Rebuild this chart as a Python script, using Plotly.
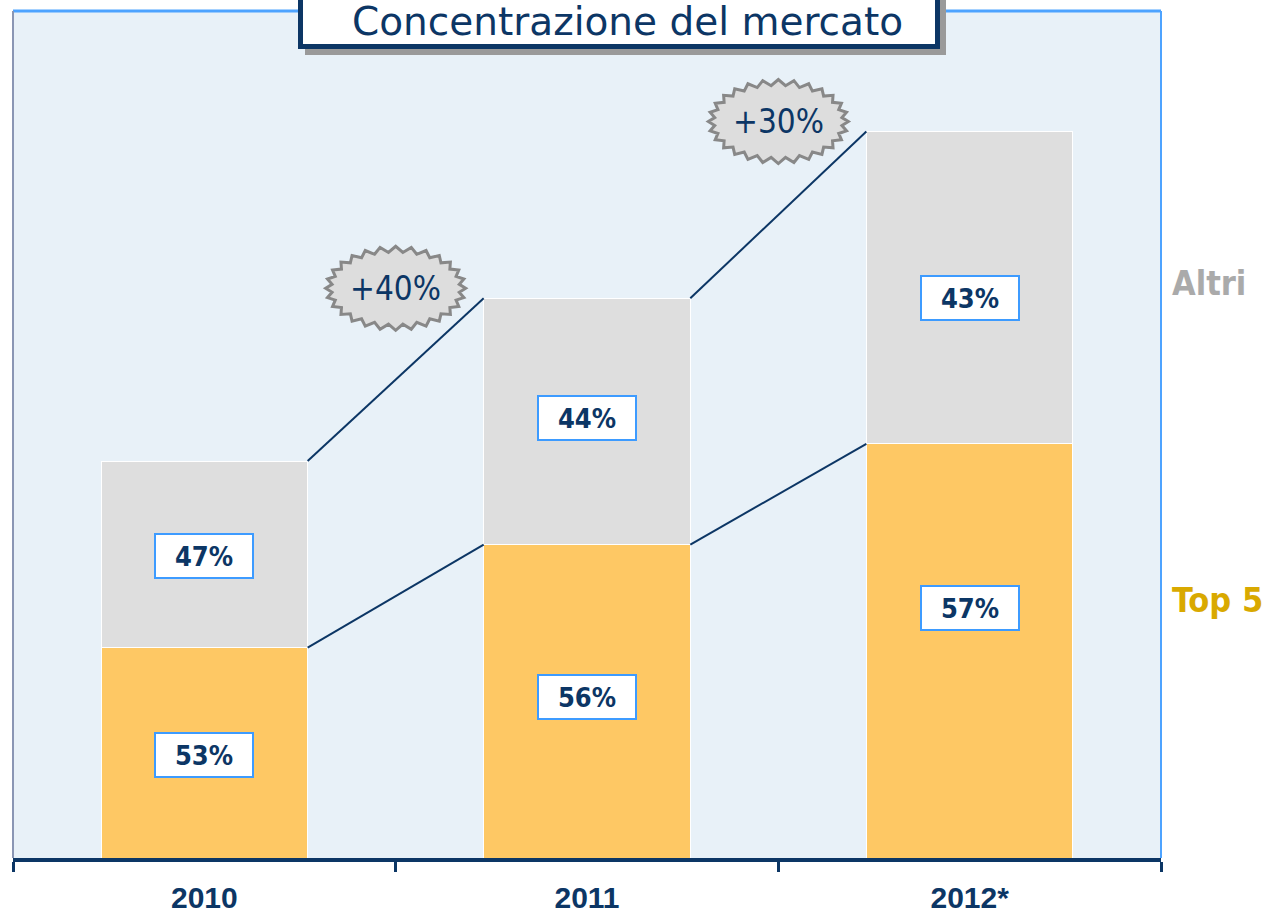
import numpy as np
import plotly.graph_objects as go

# dati (dimensione mercato indicizzata, 2010 = 100)
years = ["2010", "2011", "2012*"]
market_size = [100, 141, 183]
quota_top5 = [53, 56, 57]
quota_altri = [47, 44, 43]
growth = ["+40%", "+30%"]

NAVY = "#0C3665"
GOLD = "#FEC864"
GREY = "#DEDEDE"
BG = "#E8F1F8"
COND = "DejaVu Sans Condensed, Liberation Sans, sans-serif"

W, H = 1272, 913
L, R, T, B = 13, 111, 11, 55
pw = W - L - R
ph = H - T - B
YMAX = 213.35
BW = 0.54

top5 = [m * q / 100 for m, q in zip(market_size, quota_top5)]
altri = [m * q / 100 for m, q in zip(market_size, quota_altri)]
x = list(range(len(years)))


# pixel della pagina -> frazione dell'area grafico
def xp(px):
    return (px - L) / pw


def yp(py):
    return (H - B - py) / ph


def star_path(rx, ry, n=30, depth=5):
    pts = []
    for k in range(2 * n):
        a = np.pi * k / n
        r = 0 if k % 2 == 0 else depth
        pts.append(((rx - r) * np.cos(a), (ry - r) * np.sin(a)))
    return "M " + " L ".join(f"{a:.1f},{b:.1f}" for a, b in pts) + " Z"


fig = go.Figure()
fig.add_bar(x=x, y=top5, width=BW, name="Top 5", hoverinfo="skip",
            marker=dict(color=GOLD, line=dict(color="white", width=1)))
fig.add_bar(x=x, y=altri, width=BW, name="Altri", hoverinfo="skip",
            marker=dict(color=GREY, line=dict(color="white", width=1)))

# linee di collegamento tra le barre
for i in range(len(years) - 1):
    for serie in (market_size, top5):
        fig.add_scatter(x=[i + BW / 2, i + 1 - BW / 2], y=[serie[i], serie[i + 1]],
                        mode="lines", line=dict(color=NAVY, width=2),
                        hoverinfo="skip", showlegend=False)

# etichette percentuali
shift_top5 = [-2, 4, 43]
shift_altri = [-2, 3, -10]
box = dict(bgcolor="white", bordercolor="#3D9BFF", borderwidth=2, borderpad=1,
           width=94, height=40, showarrow=False,
           font=dict(family=COND, size=27, color=NAVY, weight="bold"))
for i in x:
    fig.add_annotation(x=i, y=top5[i] / 2, text=f"{quota_top5[i]}%", yshift=shift_top5[i], **box)
    fig.add_annotation(x=i, y=top5[i] + altri[i] / 2, text=f"{quota_altri[i]}%",
                       yshift=shift_altri[i], **box)

# badge crescita
shapes = []
for i, g in enumerate(growth):
    shapes.append(dict(type="path", xref="x", yref="y", xsizemode="pixel", ysizemode="pixel",
                       xanchor=i + 0.5, yanchor=market_size[i + 1] + 2.5,
                       path=star_path(70, 42, n=28, depth=6), fillcolor="#DDDDDD",
                       line=dict(color="#888888", width=3), layer="above"))
    fig.add_annotation(x=i + 0.5, y=market_size[i + 1] + 2.5, text=g, showarrow=False,
                       xanchor="center", yanchor="middle",
                       font=dict(family=COND, size=33, color=NAVY))

# bordo area grafico
shapes += [
    dict(type="line", xref="paper", yref="paper", x0=0, x1=1, y0=1, y1=1,
         line=dict(color="#4DA3FF", width=3)),
    dict(type="line", xref="paper", yref="paper", x0=1, x1=1, y0=0, y1=1,
         line=dict(color="#4DA3FF", width=2)),
    dict(type="line", xref="paper", yref="paper", x0=0, x1=0, y0=0, y1=1,
         line=dict(color="#8A96B4", width=2)),
]

# riquadro titolo
shapes += [
    dict(type="rect", xref="paper", yref="paper", x0=xp(305), x1=xp(946), y0=yp(55), y1=yp(-20),
         fillcolor="#9A9A9A", line=dict(width=0), layer="above"),
    dict(type="rect", xref="paper", yref="paper", x0=xp(298), x1=xp(940), y0=yp(49), y1=yp(-20),
         fillcolor=NAVY, line=dict(width=0), layer="above"),
    dict(type="rect", xref="paper", yref="paper", x0=xp(303), x1=xp(935), y0=yp(44), y1=yp(-20),
         fillcolor="white", line=dict(width=0), layer="above"),
]
fig.add_annotation(xref="paper", yref="paper", x=xp(627), y=yp(21), text="Concentrazione del mercato",
                   showarrow=False, xanchor="center", yanchor="middle",
                   font=dict(family="DejaVu Sans, Liberation Sans, sans-serif", size=39, color=NAVY))

# legenda a destra
fig.add_annotation(xref="paper", yref="paper", x=xp(1170), y=yp(283), xanchor="left",
                   yanchor="middle", text="Altri", showarrow=False,
                   font=dict(family=COND, size=34, color="#AAAAAA", weight="bold"))
fig.add_annotation(xref="paper", yref="paper", x=xp(1170), y=yp(600), xanchor="left",
                   yanchor="middle", text="Top 5", showarrow=False,
                   font=dict(family=COND, size=34, color="#D9A900", weight="bold"))

fig.update_layout(
    width=W, height=H, barmode="stack", showlegend=False,
    margin=dict(l=L, r=R, t=T, b=B, autoexpand=False),
    paper_bgcolor="white", plot_bgcolor=BG,
    shapes=shapes,
    xaxis=dict(range=[-0.5, 2.5], tickvals=x, ticktext=years, ticks="", showgrid=False,
               zeroline=False, showline=True, linecolor=NAVY, linewidth=4,
               ticklabelstandoff=10, automargin=False,
               tickfont=dict(family="Liberation Sans", size=30, color=NAVY, weight="bold"),
               minor=dict(ticks="outside", tick0=-0.5, dtick=1, ticklen=10, tickwidth=3,
                          tickcolor=NAVY, showgrid=False)),
    yaxis=dict(range=[0, YMAX], visible=False, showgrid=False, automargin=False),
)

# niente margine sul body, così la figura parte dall'angolo della finestra
fig.write_html("out.html", config={"displayModeBar": False},
               post_script="document.body.style.margin = '0';")
